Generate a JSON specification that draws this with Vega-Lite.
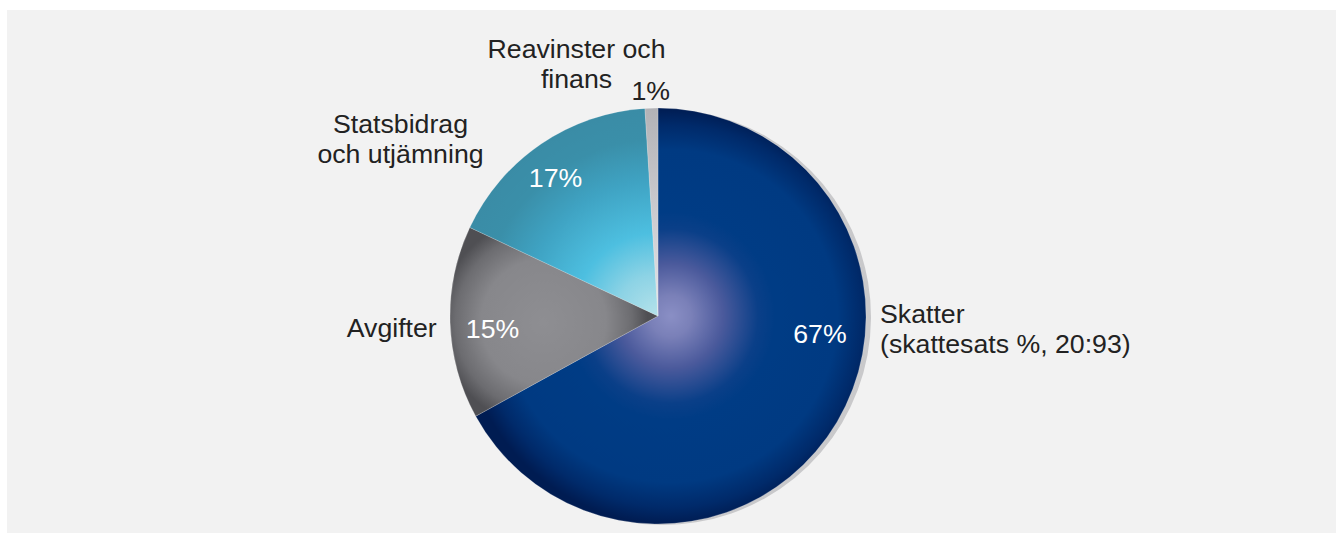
{
  "$schema": "https://vega.github.io/schema/vega-lite/v6.json",
  "width": 1336,
  "height": 543,
  "autosize": {"type": "fit", "contains": "padding"},
  "padding": {"left": 7, "top": 10, "right": 0, "bottom": 10},
  "background": "#ffffff",
  "view": {"fill": "#f2f2f2", "stroke": null},
  "config": {"view": {"fill": "#f2f2f2", "stroke": null}, "text": {"font": "Liberation Sans", "fontSize": 26.7, "lineHeight": 30}},
  "data": {"values": [
    {"cat": "Skatter", "value": 67, "pct": "67%", "label": ["Skatter", "(skattesats %, 20:93)"], "o": 1},
    {"cat": "Avgifter", "value": 15, "pct": "15%", "label": "Avgifter", "o": 2},
    {"cat": "Statsbidrag och utjämning", "value": 17, "pct": "17%", "label": ["Statsbidrag", "och utjämning"], "o": 3},
    {"cat": "Reavinster och finans", "value": 1, "pct": "1%", "label": ["Reavinster och", "finans"], "o": 4}
  ]},
  "transform": [{"stack": "value", "groupby": [], "sort": [{"field": "o", "order": "ascending"}], "as": ["t0", "t1"]}],
  "layer": [
    {
      "mark": {"type": "arc", "outerRadius": 208, "x": {"expr": "width/2 - 8.5"}, "y": {"expr": "height/2 + 45.5"}, "fill": "#c9c9cb"},
      "encoding": {"theta": {"field": "t0", "type": "quantitative", "stack": null, "scale": {"domain": [0, 100]}}, "theta2": {"field": "t1"}}
    },
    {
      "transform": [{"filter": "datum.cat === 'Skatter'"}],
      "mark": {"type": "arc", "outerRadius": 208, "x": {"expr": "width/2 - 13.5"}, "y": {"expr": "height/2 + 44.5"},
        "fill": {"gradient": "radial", "x1": 0.5, "y1": 0.5, "r1": 0, "x2": 0.5, "y2": 0.5, "r2": 0.5,
          "stops": [
            {"offset": 0, "color": "#8a8fc5"},
            {"offset": 0.1, "color": "#7a80b8"},
            {"offset": 0.25, "color": "#4b5a9c"},
            {"offset": 0.42, "color": "#0a3f88"},
            {"offset": 0.5, "color": "#003c85"},
            {"offset": 0.8, "color": "#003a82"},
            {"offset": 0.92, "color": "#002a6a"},
            {"offset": 1, "color": "#001c52"}
          ]},
        "stroke": "#ffffff", "strokeWidth": 0.5, "strokeOpacity": 0.4},
      "encoding": {"theta": {"field": "t0", "type": "quantitative", "stack": null, "scale": {"domain": [0, 100]}}, "theta2": {"field": "t1"}}
    },
    {
      "transform": [{"filter": "datum.cat === 'Avgifter'"}],
      "mark": {"type": "arc", "outerRadius": 208, "x": {"expr": "width/2 - 13.5"}, "y": {"expr": "height/2 + 44.5"},
        "fill": {"gradient": "radial", "x1": 0.45, "y1": 0.5, "r1": 0, "x2": 0.45, "y2": 0.5, "r2": 0.5,
          "stops": [
            {"offset": 0, "color": "#8e8e92"},
            {"offset": 0.6, "color": "#87878b"},
            {"offset": 0.85, "color": "#6c6c70"},
            {"offset": 1, "color": "#4f4f53"}
          ]},
        "stroke": "#ffffff", "strokeWidth": 0.5, "strokeOpacity": 0.4},
      "encoding": {"theta": {"field": "t0", "type": "quantitative", "stack": null, "scale": {"domain": [0, 100]}}, "theta2": {"field": "t1"}}
    },
    {
      "transform": [{"filter": "datum.cat === 'Statsbidrag och utjämning'"}],
      "mark": {"type": "arc", "outerRadius": 208, "x": {"expr": "width/2 - 13.5"}, "y": {"expr": "height/2 + 44.5"},
        "fill": {"gradient": "radial", "x1": 0.95, "y1": 1, "r1": 0, "x2": 0.95, "y2": 1, "r2": 1,
          "stops": [
            {"offset": 0, "color": "#b5e2ea"},
            {"offset": 0.2, "color": "#8dd3e5"},
            {"offset": 0.4, "color": "#4dbfe0"},
            {"offset": 0.65, "color": "#3fa3c3"},
            {"offset": 0.85, "color": "#3a8fa9"},
            {"offset": 1, "color": "#3a8ca6"}
          ]},
        "stroke": "#ffffff", "strokeWidth": 0.5, "strokeOpacity": 0.4},
      "encoding": {"theta": {"field": "t0", "type": "quantitative", "stack": null, "scale": {"domain": [0, 100]}}, "theta2": {"field": "t1"}}
    },
    {
      "transform": [{"filter": "datum.cat === 'Reavinster och finans'"}],
      "mark": {"type": "arc", "outerRadius": 208, "x": {"expr": "width/2 - 13.5"}, "y": {"expr": "height/2 + 44.5"},
        "fill": {"gradient": "linear", "x1": 0, "y1": 0, "x2": 0, "y2": 1,
          "stops": [
            {"offset": 0, "color": "#b2b2b6"},
            {"offset": 1, "color": "#e4e4e8"}
          ]},
        "stroke": "#ffffff", "strokeWidth": 0.5, "strokeOpacity": 0.4},
      "encoding": {"theta": {"field": "t0", "type": "quantitative", "stack": null, "scale": {"domain": [0, 100]}}, "theta2": {"field": "t1"}}
    },
    {
      "transform": [{"filter": "datum.cat === 'Skatter'"}],
      "mark": {"type": "text", "x": {"expr": "width/2 - 13.5"}, "y": {"expr": "height/2 + 44.5"}, "radius": 163.1, "thetaOffset": 1.6878, "fill": "#ffffff", "align": "center", "baseline": "middle"},
      "encoding": {"theta": {"field": "t0", "type": "quantitative", "stack": null, "scale": {"domain": [0, 100]}}, "text": {"field": "pct"}}
    },
    {
      "transform": [{"filter": "datum.cat === 'Skatter'"}],
      "mark": {"type": "text", "x": {"expr": "width/2 - 13.5"}, "y": {"expr": "height/2 + 44.5"}, "radius": 222, "thetaOffset": 1.5677, "fill": "#222222", "align": "left", "baseline": "middle"},
      "encoding": {"theta": {"field": "t0", "type": "quantitative", "stack": null, "scale": {"domain": [0, 100]}}, "text": {"field": "label"}}
    },
    {
      "transform": [{"filter": "datum.cat === 'Avgifter'"}],
      "mark": {"type": "text", "x": {"expr": "width/2 - 13.5"}, "y": {"expr": "height/2 + 44.5"}, "radius": 166.1, "thetaOffset": 0.4182, "fill": "#ffffff", "align": "center", "baseline": "middle"},
      "encoding": {"theta": {"field": "t0", "type": "quantitative", "stack": null, "scale": {"domain": [0, 100]}}, "text": {"field": "pct"}}
    },
    {
      "transform": [{"filter": "datum.cat === 'Avgifter'"}],
      "mark": {"type": "text", "x": {"expr": "width/2 - 13.5"}, "y": {"expr": "height/2 + 44.5"}, "radius": 266.6, "thetaOffset": 0.4527, "fill": "#222222", "align": "center", "baseline": "middle"},
      "encoding": {"theta": {"field": "t0", "type": "quantitative", "stack": null, "scale": {"domain": [0, 100]}}, "text": {"field": "label"}}
    },
    {
      "transform": [{"filter": "datum.cat === 'Statsbidrag och utjämning'"}],
      "mark": {"type": "text", "x": {"expr": "width/2 - 13.5"}, "y": {"expr": "height/2 + 44.5"}, "radius": 171.3, "thetaOffset": 0.4897, "fill": "#ffffff", "align": "center", "baseline": "middle"},
      "encoding": {"theta": {"field": "t0", "type": "quantitative", "stack": null, "scale": {"domain": [0, 100]}}, "text": {"field": "pct"}}
    },
    {
      "transform": [{"filter": "datum.cat === 'Statsbidrag och utjämning'"}],
      "mark": {"type": "text", "x": {"expr": "width/2 - 13.5"}, "y": {"expr": "height/2 + 44.5"}, "radius": 320.6, "thetaOffset": 0.1983, "fill": "#222222", "align": "center", "baseline": "middle"},
      "encoding": {"theta": {"field": "t0", "type": "quantitative", "stack": null, "scale": {"domain": [0, 100]}}, "text": {"field": "label"}}
    },
    {
      "transform": [{"filter": "datum.cat === 'Reavinster och finans'"}],
      "mark": {"type": "text", "x": {"expr": "width/2 - 13.5"}, "y": {"expr": "height/2 + 44.5"}, "radius": 224.1, "thetaOffset": 0.0307, "fill": "#222222", "align": "center", "baseline": "middle"},
      "encoding": {"theta": {"field": "t0", "type": "quantitative", "stack": null, "scale": {"domain": [0, 100]}}, "text": {"field": "pct"}}
    },
    {
      "transform": [{"filter": "datum.cat === 'Reavinster och finans'"}],
      "mark": {"type": "text", "x": {"expr": "width/2 - 13.5"}, "y": {"expr": "height/2 + 44.5"}, "radius": 277.9, "thetaOffset": -0.2347, "fill": "#222222", "align": "center", "baseline": "middle"},
      "encoding": {"theta": {"field": "t0", "type": "quantitative", "stack": null, "scale": {"domain": [0, 100]}}, "text": {"field": "label"}}
    }
  ]
}
